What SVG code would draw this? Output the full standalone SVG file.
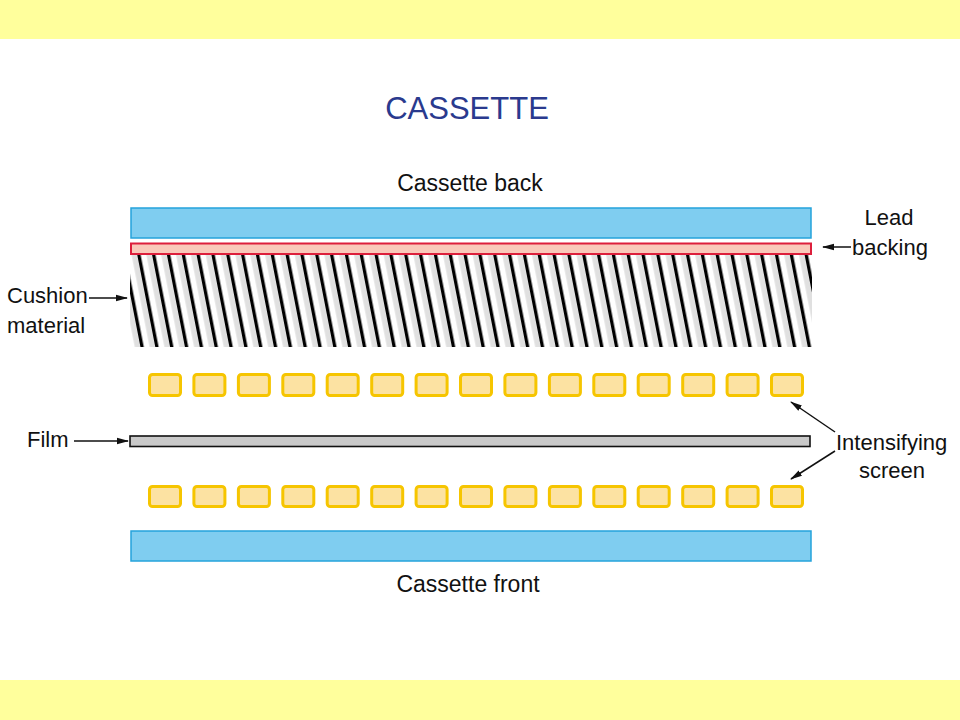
<svg xmlns="http://www.w3.org/2000/svg" width="960" height="720" viewBox="0 0 960 720">
<defs>
<style>
.band{fill:#FFFF9C}
.blue{fill:#7FCDF0;stroke:#25A3DB;stroke-width:1.5}
.lead{fill:#F9C9BA;stroke:#DD1F3C;stroke-width:2}
.tile{fill:#FCE2A2;stroke:#F6C500;stroke-width:3}
.film{fill:#C9C9C9;stroke:#111;stroke-width:1.6}
.lbl{font-family:"Liberation Sans",Arial,sans-serif;font-size:22px;fill:#111}
.big{font-size:23px}
.title{font-family:"Liberation Sans",Arial,sans-serif;font-size:31px;fill:#2A3A8E}
.conn{stroke:#111;stroke-width:1.5;fill:none;marker-end:url(#ah)}
</style>
<marker id="ah" viewBox="0 0 12 8" refX="11" refY="4" markerWidth="12" markerHeight="8" markerUnits="userSpaceOnUse" orient="auto">
<path d="M0,0.8 L12,4 L0,7.2 Z" fill="#111"/>
</marker>
<pattern id="cush" patternUnits="userSpaceOnUse" x="-1.58" y="0" width="14.83" height="400" patternTransform="skewX(11.07)">
<rect x="0" y="0" width="14.83" height="400" fill="#E0E0E0"/>
<rect x="3.6" y="0" width="5.6" height="400" fill="#FFFFFF"/>
<rect x="0" y="0" width="3.3" height="400" fill="#000000"/>
</pattern>
</defs>
<rect class="band" x="0" y="0" width="960" height="39"/>
<rect class="band" x="0" y="680" width="960" height="40"/>
<text class="title" x="467" y="119" text-anchor="middle">CASSETTE</text>
<g id="cassette-back">
<rect class="blue" x="131" y="208" width="680" height="30"/>
<text class="lbl big" x="470" y="191" text-anchor="middle">Cassette back</text>
</g>
<g id="lead-backing">
<rect class="lead" x="131" y="243.5" width="680" height="10.5"/>
<text class="lbl" x="889" y="225" text-anchor="middle">Lead</text>
<text class="lbl" x="890" y="255" text-anchor="middle">backing</text>
</g>
<g id="cushion-material">
<rect x="130" y="255" width="682" height="92" fill="url(#cush)"/>
<text class="lbl" x="7" y="303">Cushion</text>
<text class="lbl" x="7" y="333">material</text>
</g>
<g id="screen-top">
<rect class="tile" x="149.5" y="374.5" width="31" height="21" rx="3"/>
<rect class="tile" x="193.9" y="374.5" width="31" height="21" rx="3"/>
<rect class="tile" x="238.4" y="374.5" width="31" height="21" rx="3"/>
<rect class="tile" x="282.8" y="374.5" width="31" height="21" rx="3"/>
<rect class="tile" x="327.2" y="374.5" width="31" height="21" rx="3"/>
<rect class="tile" x="371.7" y="374.5" width="31" height="21" rx="3"/>
<rect class="tile" x="416.1" y="374.5" width="31" height="21" rx="3"/>
<rect class="tile" x="460.5" y="374.5" width="31" height="21" rx="3"/>
<rect class="tile" x="504.9" y="374.5" width="31" height="21" rx="3"/>
<rect class="tile" x="549.4" y="374.5" width="31" height="21" rx="3"/>
<rect class="tile" x="593.8" y="374.5" width="31" height="21" rx="3"/>
<rect class="tile" x="638.2" y="374.5" width="31" height="21" rx="3"/>
<rect class="tile" x="682.7" y="374.5" width="31" height="21" rx="3"/>
<rect class="tile" x="727.1" y="374.5" width="31" height="21" rx="3"/>
<rect class="tile" x="771.5" y="374.5" width="31" height="21" rx="3"/>
</g>
<g id="film">
<rect class="film" x="130" y="436" width="680" height="10.5"/>
<text class="lbl" x="27" y="447">Film</text>
</g>
<g id="screen-bottom">
<rect class="tile" x="149.5" y="486.5" width="31" height="20" rx="3"/>
<rect class="tile" x="193.9" y="486.5" width="31" height="20" rx="3"/>
<rect class="tile" x="238.4" y="486.5" width="31" height="20" rx="3"/>
<rect class="tile" x="282.8" y="486.5" width="31" height="20" rx="3"/>
<rect class="tile" x="327.2" y="486.5" width="31" height="20" rx="3"/>
<rect class="tile" x="371.7" y="486.5" width="31" height="20" rx="3"/>
<rect class="tile" x="416.1" y="486.5" width="31" height="20" rx="3"/>
<rect class="tile" x="460.5" y="486.5" width="31" height="20" rx="3"/>
<rect class="tile" x="504.9" y="486.5" width="31" height="20" rx="3"/>
<rect class="tile" x="549.4" y="486.5" width="31" height="20" rx="3"/>
<rect class="tile" x="593.8" y="486.5" width="31" height="20" rx="3"/>
<rect class="tile" x="638.2" y="486.5" width="31" height="20" rx="3"/>
<rect class="tile" x="682.7" y="486.5" width="31" height="20" rx="3"/>
<rect class="tile" x="727.1" y="486.5" width="31" height="20" rx="3"/>
<rect class="tile" x="771.5" y="486.5" width="31" height="20" rx="3"/>
</g>
<g id="intensifying-screen-label">
<text class="lbl" x="836" y="450">Intensifying</text>
<text class="lbl" x="892" y="478" text-anchor="middle">screen</text>
</g>
<g id="cassette-front">
<rect class="blue" x="131" y="531" width="680" height="30"/>
<text class="lbl big" x="468" y="592" text-anchor="middle">Cassette front</text>
</g>
<g id="connectors">
<path class="conn" d="M851,247 L823,247"/>
<path class="conn" d="M89,298 L127,298"/>
<path class="conn" d="M74,441 L128,441"/>
<path class="conn" d="M835,432 L791,402"/>
<path class="conn" d="M835,451 L791,479"/>
</g>
</svg>
